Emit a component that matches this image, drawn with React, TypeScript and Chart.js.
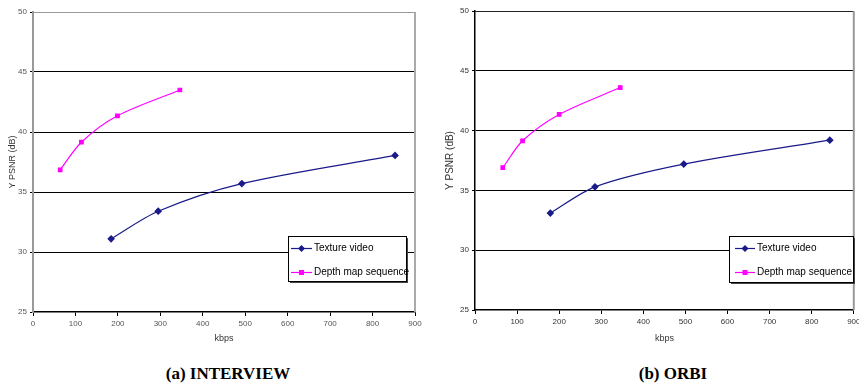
import React, { useEffect, useRef } from "react";
import { Chart, registerables } from "chart.js";

Chart.register(...registerables);

// ---- data ----
const seriesLabels = ["Texture video", "Depth map sequence"];
const panelCaptions = ["(a) INTERVIEW", "(b) ORBI"];
const xAxisTitle = "kbps";
const yAxisTitle = "Y PSNR (dB)";

const interviewTextureKbps = [184, 295, 492, 853];
const interviewTexturePsnr = [31.1, 33.4, 35.7, 38.05];
const interviewDepthKbps = [64, 114, 199, 346];
const interviewDepthPsnr = [36.85, 39.15, 41.35, 43.5];

const orbiTextureKbps = [179, 285, 496, 843];
const orbiTexturePsnr = [33.1, 35.3, 37.2, 39.2];
const orbiDepthKbps = [66, 113, 200, 345];
const orbiDepthPsnr = [36.9, 39.15, 41.35, 43.6];

const xMin = 0, xMax = 900, xStep = 100;
const yMin = 25, yMax = 50, yStep = 5;

const TEXTURE_COLOR = "#1a1a8a";
const DEPTH_COLOR = "#ff00ff";

const toPoints = (xs: number[], ys: number[]) => xs.map((x, i) => ({ x, y: ys[i] }));

const FONT = "'Liberation Sans Narrow', 'Liberation Sans', Arial, sans-serif";

const boxLegend = {
  id: "boxLegend",
  afterDraw(chart: any, _args: any, opts: any) {
    const ctx = chart.ctx;
    const { x, y, w, h, lineX0, lineX1, textX, rows } = opts;
    ctx.save();
    ctx.fillStyle = "#444";
    ctx.fillRect(x + 2, y + 2, w, h);
    ctx.fillStyle = "#fff";
    ctx.fillRect(x, y, w, h);
    ctx.strokeStyle = "#000";
    ctx.lineWidth = 1;
    ctx.strokeRect(x + 0.5, y + 0.5, w, h);
    chart.data.datasets.forEach((ds: any, i: number) => {
      const yy = rows[i] + 0.5;
      ctx.strokeStyle = ds.borderColor;
      ctx.lineWidth = 1.2;
      ctx.beginPath();
      ctx.moveTo(lineX0, yy);
      ctx.lineTo(lineX1, yy);
      ctx.stroke();
      const cx = (lineX0 + lineX1) / 2;
      ctx.fillStyle = ds.borderColor;
      if (ds.pointStyle === "rectRot") {
        ctx.beginPath();
        ctx.moveTo(cx, yy - 3.5);
        ctx.lineTo(cx + 3.5, yy);
        ctx.lineTo(cx, yy + 3.5);
        ctx.lineTo(cx - 3.5, yy);
        ctx.closePath();
        ctx.fill();
      } else {
        ctx.fillRect(cx - 2.5, yy - 2.5, 5, 5);
      }
      ctx.fillStyle = "#000";
      ctx.font = `10px ${FONT}`;
      ctx.textBaseline = "middle";
      ctx.textAlign = "left";
      ctx.fillText(ds.label, textX, yy);
    });
    ctx.restore();
  },
};

const frameLines = {
  id: "frameLines",
  beforeDatasetsDraw(chart: any, _a: any, opts: any) {
    const { ctx, chartArea } = chart;
    ctx.save();
    ctx.lineWidth = 1;
    ctx.strokeStyle = opts.topColor;
    ctx.beginPath();
    ctx.moveTo(chartArea.left, Math.round(chartArea.top) + 0.5);
    ctx.lineTo(chartArea.right, Math.round(chartArea.top) + 0.5);
    ctx.stroke();
    ctx.strokeStyle = opts.rightColor;
    ctx.lineWidth = 2;
    ctx.beginPath();
    ctx.moveTo(chartArea.right, chartArea.top);
    ctx.lineTo(chartArea.right, chartArea.bottom);
    ctx.stroke();
    ctx.restore();
  },
};

type PanelProps = {
  texX: number[];
  texY: number[];
  depX: number[];
  depY: number[];
  yAxisWidth: number;
  xAxisHeight: number;
  padTop: number;
  padRight: number;
  yTitlePad: number;
  yTitleSize: number;
  tickColor: string;
  yBorderColor: string;
  yBorderWidth: number;
  topColor: string;
  rightColor: string;
  legend: any;
  width: number;
};

function Panel(p: PanelProps) {
  const ref = useRef<HTMLCanvasElement | null>(null);
  useEffect(() => {
    if (!ref.current) return;
    const chart = new Chart(ref.current, {
      type: "line",
      data: {
        datasets: [
          {
            label: seriesLabels[0],
            data: toPoints(p.texX, p.texY),
            borderColor: TEXTURE_COLOR,
            backgroundColor: TEXTURE_COLOR,
            borderWidth: 1.2,
            pointStyle: "rectRot",
            pointRadius: 3,
            tension: 0.3,
          },
          {
            label: seriesLabels[1],
            data: toPoints(p.depX, p.depY),
            borderColor: DEPTH_COLOR,
            backgroundColor: DEPTH_COLOR,
            borderWidth: 1.2,
            pointStyle: "rect",
            pointRadius: 2.5,
            tension: 0.3,
          },
        ],
      },
      options: {
        animation: false,
        responsive: false,
        maintainAspectRatio: false,
        layout: { padding: { top: p.padTop, right: p.padRight, left: 0, bottom: 0 } },
        plugins: {
          legend: { display: false },
          tooltip: { enabled: false },
          boxLegend: p.legend,
          frameLines: { topColor: p.topColor, rightColor: p.rightColor },
        } as any,
        scales: {
          x: {
            type: "linear",
            min: xMin,
            max: xMax,
            ticks: {
              stepSize: xStep,
              color: p.tickColor,
              font: { size: 8, family: FONT },
              padding: 3,
              maxRotation: 0,
              autoSkip: false,
            },
            grid: {
              drawOnChartArea: false,
              drawTicks: true,
              tickLength: 4,
              tickColor: "#000",
            },
            border: { color: "#000", width: 1.5 },
            title: {
              display: true,
              text: xAxisTitle,
              color: "#333",
              font: { size: 9, family: FONT },
              padding: { top: 0, bottom: 6 },
            },
            afterFit: (s: any) => {
              s.height = p.xAxisHeight;
              s.paddingLeft = 0;
              s.paddingRight = 0;
            },
          } as any,
          y: {
            type: "linear",
            min: yMin,
            max: yMax,
            ticks: {
              stepSize: yStep,
              color: p.tickColor,
              font: { size: 8, family: FONT },
              padding: 3,
            },
            grid: {
              color: (c: any) =>
                c.tick && (c.tick.value === yMin || c.tick.value === yMax) ? "rgba(0,0,0,0)" : "#000",
              tickColor: "#000",
              tickLength: 3,
              lineWidth: 1,
            },
            border: { color: p.yBorderColor, width: p.yBorderWidth },
            title: {
              display: true,
              text: yAxisTitle,
              color: "#333",
              font: { size: p.yTitleSize, family: FONT },
              padding: { top: p.yTitlePad, bottom: 0 },
            },
            afterFit: (s: any) => {
              s.width = p.yAxisWidth;
              s.paddingTop = 0;
              s.paddingBottom = 0;
            },
          } as any,
        },
      },
      plugins: [frameLines, boxLegend],
    });
    return () => chart.destroy();
  }, []);
  return <canvas ref={ref} width={p.width} height={350} style={{ display: "block", width: p.width, height: 350 }} />;
}

export default function App() {
  return (
    <div style={{ position: "fixed", left: 0, top: 0, width: 859, height: 385, background: "#fff" }}>
      <div style={{ position: "absolute", left: 0, top: 0 }}>
        <Panel
          texX={interviewTextureKbps}
          texY={interviewTexturePsnr}
          depX={interviewDepthKbps}
          depY={interviewDepthPsnr}
          yAxisWidth={33}
          xAxisHeight={38}
          padTop={12}
          padRight={15}
          yTitlePad={7}
          yTitleSize={9}
          tickColor="#555"
          yBorderColor="#999"
          yBorderWidth={2}
          topColor="#999"
          rightColor="#aaa"
          width={430}
          legend={{ x: 288, y: 236, w: 118, h: 45, lineX0: 291, lineX1: 312, textX: 314, rows: [248, 272] }}
        />
      </div>
      <div style={{ position: "absolute", left: 430, top: 0 }}>
        <Panel
          texX={orbiTextureKbps}
          texY={orbiTexturePsnr}
          depX={orbiDepthKbps}
          depY={orbiDepthPsnr}
          yAxisWidth={45}
          xAxisHeight={40}
          padTop={11}
          padRight={2}
          yTitlePad={14}
          yTitleSize={10}
          tickColor="#333"
          yBorderColor="#000"
          yBorderWidth={1.5}
          topColor="#222"
          rightColor="#999"
          width={429}
          legend={{ x: 299, y: 236, w: 124, h: 46, lineX0: 305, lineX1: 325, textX: 327, rows: [248, 272] }}
        />
      </div>
      <div
        style={{
          position: "absolute",
          left: 128,
          width: 200,
          top: 364,
          textAlign: "center",
          font: "bold 17px 'Liberation Serif', 'Times New Roman', serif",
          color: "#000",
        }}
      >
        {panelCaptions[0]}
      </div>
      <div
        style={{
          position: "absolute",
          left: 573,
          width: 200,
          top: 364,
          textAlign: "center",
          font: "bold 17px 'Liberation Serif', 'Times New Roman', serif",
          color: "#000",
        }}
      >
        {panelCaptions[1]}
      </div>
    </div>
  );
}
